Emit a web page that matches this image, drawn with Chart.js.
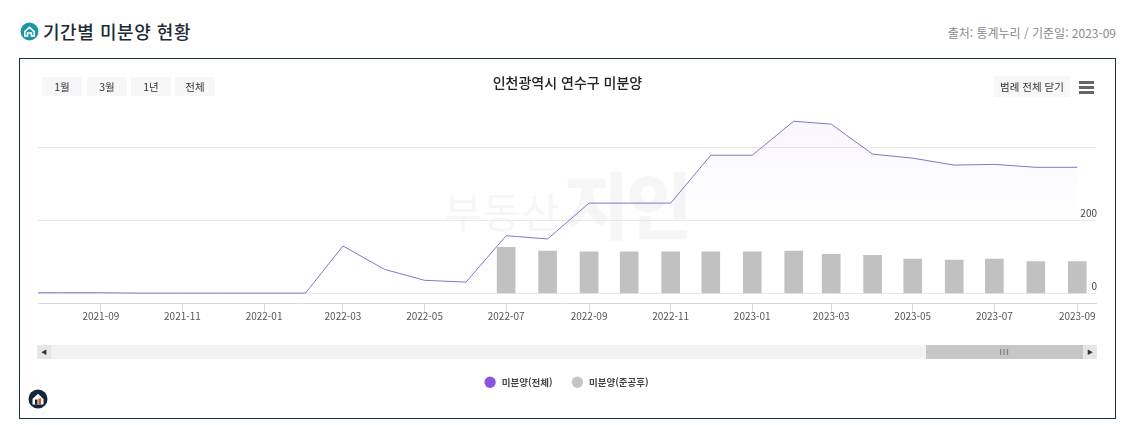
<!DOCTYPE html>
<html lang="ko"><head><meta charset="utf-8">
<script src="https://cdn.jsdelivr.net/npm/chart.js@4/dist/chart.umd.min.js"></script>
<style>
html,body{margin:0;padding:0;background:#fff;width:1128px;height:425px;overflow:hidden;font-family:"Noto Sans CJK KR","Noto Sans",sans-serif}
.a{position:absolute;white-space:nowrap}
#box{left:19px;top:58px;width:1095px;height:359px;border:1px solid #1c2f3f}
#c{position:absolute;left:0;top:0;z-index:2}
.btn{top:77px;height:19px;width:40px;background:#f7f7f7;font-size:10.5px;line-height:19px;text-align:center;color:#333;z-index:3}
.wm{color:#f6f6f7;z-index:1;line-height:1}
</style></head><body>
<svg class="a" style="left:20px;top:22px" width="20" height="20" viewBox="0 0 20 20"><circle cx="9.5" cy="9.5" r="9" fill="#1c97a5"/><path d="M4.8 9.6 9.5 5.4l4.7 4.2v4.4H11.4v-3H7.6v3H4.8z" fill="none" stroke="#fff" stroke-width="1.6"/></svg>
<div class="a" style="left:43px;top:18px;font-size:18px;line-height:26px;color:#1d2b36;font-weight:500;letter-spacing:.55px">기간별 미분양 현황</div>
<div class="a" style="right:12px;top:24px;font-size:12px;line-height:18px;color:#8a8a8a;letter-spacing:0">출처: 통계누리 / 기준일: 2023-09</div>
<div class="a" id="box"></div>
<div class="a wm" style="left:444px;top:190px;font-size:41px;letter-spacing:1px">부동산</div>
<div class="a wm" style="left:563px;top:166px;font-size:72px;font-weight:900;letter-spacing:-3px;color:#f6f6f7">지인</div>
<canvas id="c" class="a" width="1128" height="425"></canvas>
<div class="a btn" style="left:42px">1월</div>
<div class="a btn" style="left:87px">3월</div>
<div class="a btn" style="left:131px">1년</div>
<div class="a btn" style="left:175px">전체</div>
<div class="a" style="left:400px;width:335px;top:72px;text-align:center;font-size:14px;line-height:20px;color:#222;font-weight:500;z-index:3">인천광역시 연수구 미분양</div>
<div class="a" style="left:994px;top:76px;width:76px;height:21px;background:#f7f7f7;font-size:10.5px;line-height:21px;text-align:center;color:#333;z-index:3">범례 전체 닫기</div>
<div class="a" style="left:1079px;top:81px;width:15px;height:3px;background:#666;box-shadow:0 5px 0 #666,0 10px 0 #666;z-index:3"></div>
<div class="a" style="left:37px;top:345px;width:1060px;height:14px;background:#f2f2f2;z-index:3"></div>
<div class="a" style="left:37px;top:345px;width:14px;height:14px;background:#e6e6e6;color:#333;font-size:6px;line-height:14px;text-align:center;z-index:3">◀</div>
<div class="a" style="left:926px;top:345px;width:157px;height:14px;background:#c6c6c6;color:#555;font-size:8px;line-height:13px;text-align:center;letter-spacing:1px;z-index:3">III</div>
<div class="a" style="left:1083px;top:345px;width:14px;height:14px;background:#e6e6e6;color:#333;font-size:6px;line-height:14px;text-align:center;z-index:3">▶</div>
<svg class="a" style="left:28px;top:389px;z-index:3" width="20" height="20" viewBox="0 0 20 20"><circle cx="10" cy="10" r="9.500" fill="#14263a"/><path d="M4.500 10 10 4.800l5.500 5.200V15.500H4.500z" fill="#fff"/><rect x="7" y="10.500" width="2.500" height="5" fill="#14263a"/><rect x="10.500" y="9.500" width="2.500" height="6" fill="#c2552f"/></svg>
<script>
const months = ["2021-07","2021-08","2021-09","2021-10","2021-11","2021-12","2022-01","2022-02","2022-03","2022-04","2022-05","2022-06","2022-07","2022-08","2022-09","2022-10","2022-11","2022-12","2023-01","2023-02","2023-03","2023-04","2023-05","2023-06","2023-07","2023-08","2023-09"];
const totalUnsold = [2,2,2,1,1,1,1,1,130,66,36,31,158,149,247,247,247,378,378,471,463,381,370,351,353,345,345];
const completedUnsold = [null,null,null,null,null,null,null,null,null,null,null,null,126,116,114,114,114,114,114,116,107,104,94,91,94,87,87];
const tickMonths = ["2021-09","2021-11","2022-01","2022-03","2022-05","2022-07","2022-09","2022-11","2023-01","2023-03","2023-05","2023-07","2023-09"];
const seriesNames = ["미분양(전체)","미분양(준공후)"];
const legendColors = ["#8a55de","#c4c4c4"];
const windowStart = "2021-07-16", windowEnd = "2023-09-15";
const yTicksShown = [0,200];

const ts = m => Date.parse(m.length===7 ? m+"-01T00:00:00Z" : m+"T00:00:00Z");
const fmt = v => { const d=new Date(v); return d.getUTCFullYear()+"-"+String(d.getUTCMonth()+1).padStart(2,"0"); };
const font = '"Noto Sans CJK KR","Noto Sans",sans-serif';

new Chart(document.getElementById("c"),{
  data:{datasets:[
    {type:"line",label:seriesNames[0],order:1,
     data:months.map((m,i)=>({x:ts(m),y:totalUnsold[i]})),
     borderColor:"#8a72c9",borderWidth:1,pointRadius:0,tension:0,fill:"origin",
     backgroundColor(ctx){
       const a=ctx.chart.chartArea; if(!a) return "transparent";
       const g=ctx.chart.ctx.createLinearGradient(0,a.top+20,0,a.top+125);
       g.addColorStop(0,"rgba(150,105,230,.06)");g.addColorStop(1,"rgba(150,105,230,0)");return g;
     }},
    {type:"bar",label:seriesNames[1],order:2,
     data:months.map((m,i)=>({x:ts(m),y:completedUnsold[i]})),
     backgroundColor:"#c1c1c1",barThickness:18}
  ]},
  options:{
    responsive:false,animation:false,
    layout:{padding:{left:38,right:32,top:100,bottom:28}},
    scales:{
      x:{type:"linear",offset:false,min:ts(windowStart),max:ts(windowEnd),
        afterBuildTicks(s){s.ticks=tickMonths.map(m=>({value:ts(m)}));},
        afterFit(s){s.height=54;},
        border:{color:"#d8d8e0"},
        grid:{offset:false,drawOnChartArea:false,color:"#d8d8e0",tickLength:8},
        ticks:{autoSkip:false,maxRotation:0,padding:-1,color:"#555",font:{family:font,size:10},callback:v=>fmt(v)}},
      y:{position:"right",min:-27.4,max:529,
        afterFit(s){s.width=0;},
        border:{display:false},
        grid:{color:"#e8e8e8",drawTicks:false},
        ticks:{stepSize:200,includeBounds:false,mirror:true,padding:1,labelOffset:-7,color:"#444",font:{family:font,size:10},
          callback:v=>yTicksShown.includes(v)?String(v):""}}
    },
    plugins:{
      title:{display:false},tooltip:{enabled:false},
      legend:{position:"bottom",labels:{usePointStyle:true,boxWidth:9.5,boxHeight:8,padding:20,color:"#444",
        font:{family:font,size:9.5,weight:"bold"},
        generateLabels:()=>seriesNames.map((t,i)=>({text:" "+t,fillStyle:legendColors[i],strokeStyle:legendColors[i],lineWidth:0,pointStyle:"circle",datasetIndex:i,fontColor:"#444"}))}}
    }
  }
});
</script>
</body></html>
